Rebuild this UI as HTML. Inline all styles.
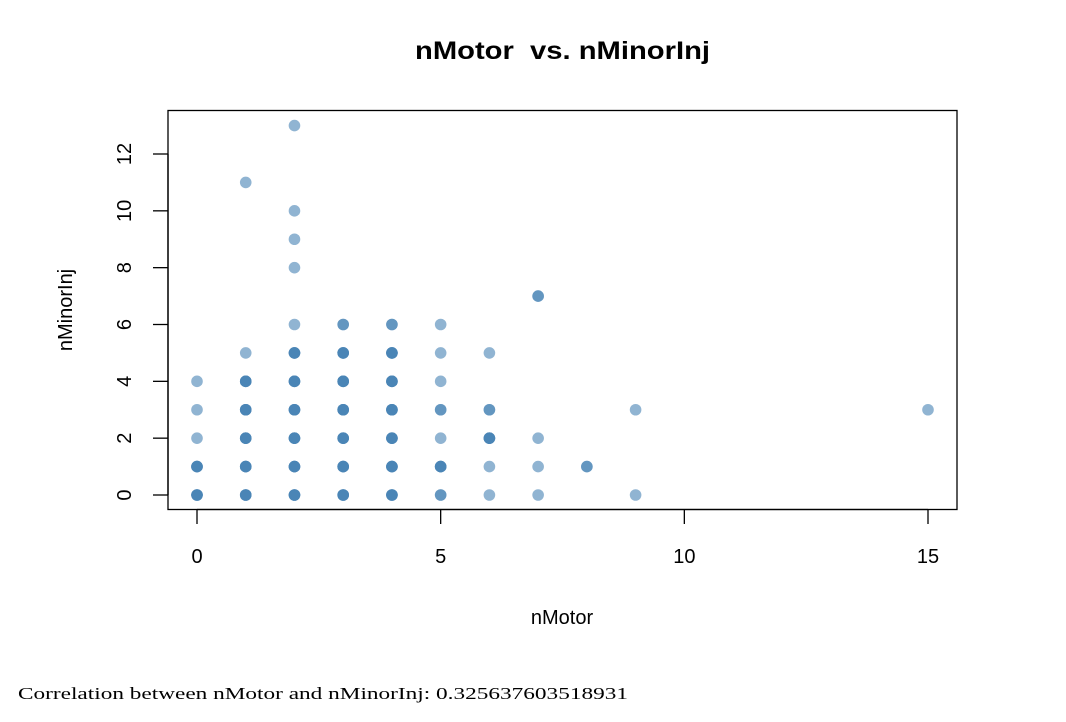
<!DOCTYPE html>
<html><head><meta charset="utf-8"><style>
html,body{margin:0;padding:0;background:#fff;}
svg{display:block;font-family:"Liberation Sans",sans-serif;}
</style></head><body>
<svg id="chart" width="1066" height="722">
<text x="415" y="59" font-size="25" font-weight="bold" textLength="295" lengthAdjust="spacingAndGlyphs" style="white-space:pre">nMotor  vs. nMinorInj</text>
<rect x="168" y="110.5" width="789" height="399" fill="none" stroke="#000" stroke-width="1.3"/>
<g id="xaxis"></g>
<g id="yaxis"></g>
<g id="points"></g>
<text x="562" y="624" text-anchor="middle" font-size="20">nMotor</text>
<text transform="translate(72,310) rotate(-90)" text-anchor="middle" font-size="20">nMinorInj</text>
<text x="18" y="699" font-size="17" font-family="'Liberation Serif',serif" textLength="610" lengthAdjust="spacingAndGlyphs">Correlation between nMotor and nMinorInj: 0.325637603518931</text>
</svg>
<script>
const xTicks=[0,5,10,15];
const yTicks=[0,2,4,6,8,10,12];
const xVals=[0,0,0,0,0, 1,1,1,1,1,1,1, 2,2,2,2,2,2,2,2,2,2,2, 3,3,3,3,3,3,3, 4,4,4,4,4,4,4, 5,5,5,5,5,5,5, 6,6,6,6,6, 7,7,7,7, 8, 9,9, 15];
const yVals=[0,1,2,3,4, 0,1,2,3,4,5,11, 0,1,2,3,4,5,6,8,9,10,13, 0,1,2,3,4,5,6, 0,1,2,3,4,5,6, 0,1,2,3,4,5,6, 0,1,2,3,5, 0,1,2,7, 1, 0,3, 3];
const counts=[4,4,1,1,1, 4,4,4,4,4,1,1, 4,4,4,4,4,4,1,1,1,1,1, 4,4,4,4,4,4,2, 4,4,4,4,4,4,2, 2,4,1,2,1,1,1, 1,1,4,2,1, 1,1,1,2, 2, 1,1, 1];
const NS='http://www.w3.org/2000/svg';
function sx(v){return 197+v*(928-197)/15;}
function sy(v){return 495-v*(495-154)/12;}
const xa=document.getElementById('xaxis'),ya=document.getElementById('yaxis'),pg=document.getElementById('points');
function mk(tag,attrs,parent){const e=document.createElementNS(NS,tag);for(const k in attrs)e.setAttribute(k,attrs[k]);parent.appendChild(e);return e;}
const xl=mk('line',{x1:sx(0),x2:sx(15),y1:509.5,y2:509.5,stroke:'#000','stroke-width':1.3},xa);


xTicks.forEach(t=>{
  const l=mk('line',{x1:sx(t),x2:sx(t),y1:509.5,y2:524,stroke:'#000','stroke-width':1.3},xa);
  
  
  const tx=mk('text',{x:sx(t),y:563,'text-anchor':'middle','font-size':20},xa);
  tx.textContent=t;
  
  
});
const yl=mk('line',{x1:168,x2:168,y1:sy(0),y2:sy(12),stroke:'#000','stroke-width':1.3},ya);


yTicks.forEach(t=>{
  const l=mk('line',{x1:153,x2:168,y1:sy(t),y2:sy(t),stroke:'#000','stroke-width':1.3},ya);
  
  
  const tx=mk('text',{transform:`translate(131,${sy(t)}) rotate(-90)`,'text-anchor':'middle','font-size':20},ya);
  tx.textContent=t;
  
  
});
xVals.forEach((x,i)=>{
  for(let k=0;k<counts[i];k++){
    const c=mk('circle',{cx:sx(x),cy:sy(yVals[i]),r:5.8,fill:'#4682B4','fill-opacity':0.6},pg);
    
    
  }
});
</script>
</body></html>
